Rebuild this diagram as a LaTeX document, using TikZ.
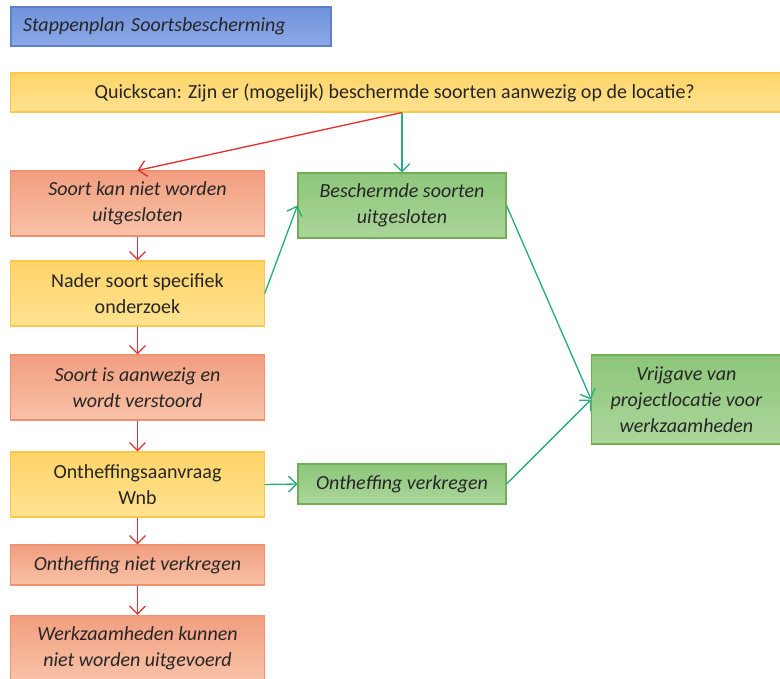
\documentclass[tikz,border=0pt]{standalone}
\usepackage{fontspec}
\setmainfont{Carlito}
\usetikzlibrary{arrows.meta}
\definecolor{redtop}{HTML}{F29E80}
\definecolor{redbot}{HTML}{F8C2A7}
\definecolor{redrim}{HTML}{EC9271}
\definecolor{yeltop}{HTML}{FFD468}
\definecolor{yelbot}{HTML}{FFE291}
\definecolor{yelrim}{HTML}{FCC84A}
\definecolor{grntop}{HTML}{8DC67A}
\definecolor{grnbot}{HTML}{ABD69B}
\definecolor{grnrim}{HTML}{74AD55}
\definecolor{blutop}{HTML}{7092DC}
\definecolor{blubot}{HTML}{8CA9E6}
\definecolor{blurim}{HTML}{5D80CC}
\definecolor{redline}{HTML}{E3312F}
\definecolor{grnline}{HTML}{27AE7C}
\definecolor{ink}{HTML}{262626}
\tikzset{
  box/.style={draw, line width=0.8pt, align=center, text=ink, inner sep=2pt,
    font=\fontsize{15}{19.5}\selectfont},
  redbox/.style={box, draw=redrim, top color=redtop, bottom color=redbot, font=\fontsize{15}{19.5}\selectfont\itshape},
  yelbox/.style={box, draw=yelrim, top color=yeltop, bottom color=yelbot},
  grnbox/.style={box, draw=grnrim, top color=grntop, bottom color=grnbot, font=\fontsize{15}{19.5}\selectfont\itshape},
  no/.style={draw=redline, line width=1pt, -{Straight Barb[length=6pt,width=12pt]}},
  yes/.style={draw=grnline, line width=1pt, -{Straight Barb[length=6pt,width=12pt]}},
  colw/.style={minimum width=190pt},
  midw/.style={minimum width=156pt},
  tall/.style={minimum height=48.75pt},
  low/.style={minimum height=30pt}
}
\begin{document}
\begin{tikzpicture}[x=0.75pt, y=-0.75pt]
  \useasboundingbox (0,0) rectangle (780,678);
  \draw
    (171,26.5) node[box, draw=blurim, top color=blutop, bottom color=blubot,
      minimum width=240pt, minimum height=29.25pt, text width=222pt, align=left,
      font=\fontsize{15}{19.5}\selectfont\itshape] (plan){Stappenplan Soortsbescherming}
    (400,92.5) node[yelbox, minimum width=584pt, minimum height=29.25pt] (scan){\hspace*{-8pt}Quickscan: Zijn er (mogelijk) beschermde soorten aanwezig op de locatie?}
    (137.5,203.5) node[redbox, colw, tall] (kan){Soort kan niet worden\\uitgesloten}
    (402,205.5) node[grnbox, midw, tall] (uit){Beschermde soorten\\uitgesloten}
    (137.5,293.5) node[yelbox, colw, tall] (nader){Nader soort specifiek\\onderzoek}
    (137.5,387.5) node[redbox, colw, tall] (aanw){Soort is aanwezig en\\wordt verstoord}
    (137.5,484.5) node[yelbox, colw, tall] (aanvr){Ontheffingsaanvraag\\Wnb}
    (402,484) node[grnbox, midw, low] (verk){Ontheffing verkregen}
    (137.5,565) node[redbox, colw, low] (niet){Ontheffing niet verkregen}
    (137.5,648) node[redbox, colw, tall] (werk){Werkzaamheden kunnen\\niet worden uitgevoerd}
    (689,399.5) node[grnbox, minimum width=146pt, minimum height=66.75pt] (vrij){\hspace*{-4pt}Vrijgave van\\\hspace*{-4pt}projectlocatie voor\\\hspace*{-4pt}werkzaamheden};
  \begin{scope}[no]
    \draw (scan.south -| uit.north) to (kan.north);
    \draw (kan) to (nader);
    \draw (nader) to (aanw);
    \draw (aanw) to (aanvr);
    \draw (aanvr) to (niet);
    \draw (niet) to (werk);
  \end{scope}
  \begin{scope}[yes]
    \draw (scan.south -| uit.north) to (uit.north);
    \draw (nader.east) to (uit.west);
    \draw (aanvr.east) to (verk.west);
    \draw (uit.east) to (vrij.west);
    \draw (verk.east) to (vrij.west);
  \end{scope}
\end{tikzpicture}
\end{document}
